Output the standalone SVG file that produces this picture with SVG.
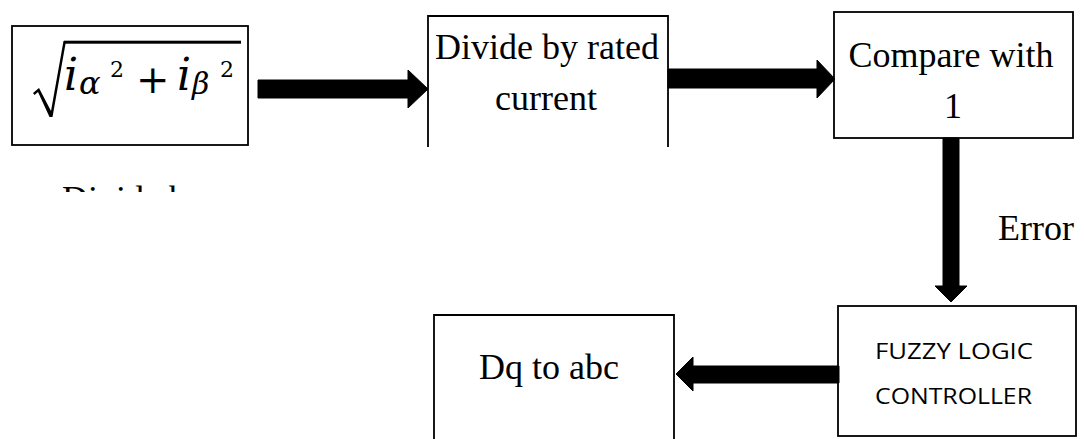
<svg xmlns="http://www.w3.org/2000/svg" width="1084" height="439" viewBox="0 0 1084 439">
  <style>
    .box { fill: none; stroke: #000; stroke-width: 1.8; }
    .lbl { font-family: "Liberation Serif", "Times New Roman", serif; font-size: 36px; fill: #000; }
    .mid { text-anchor: middle; }
    .sans { font-family: "Open Sans", "Liberation Sans", sans-serif; font-size: 22px; fill: #000; }
    .mi { font-family: "DejaVu Serif", serif; font-style: italic; fill: #000; }
    .mn { font-family: "DejaVu Serif", serif; fill: #000; }
    .arrow { fill: #000; stroke: #000; stroke-width: 1; stroke-linejoin: round; }
  </style>
  <defs>
    <clipPath id="cut-label">
      <rect x="0" y="150" width="300" height="42"/>
    </clipPath>
  </defs>

  <rect width="1084" height="439" fill="#fff"/>

  <!-- magnitude block: sqrt(i_alpha^2 + i_beta^2) -->
  <g id="node-magnitude">
    <rect class="box" x="12" y="26" width="236" height="119"/>
    <!-- radical sign and vinculum -->
    <path d="M33,93 L39,88 L51,111 L63.5,41 L66,41 L52.5,117 L49.5,117 L38,92 L34.5,95 Z" fill="#000"/>
    <rect x="64" y="40.7" width="177" height="3" fill="#000"/>
    <text class="mi" x="64" y="90" font-size="44">i</text>
    <text class="mi" x="79" y="94" font-size="32">α</text>
    <text class="mn" x="110" y="77" font-size="22">2</text>
    <text class="mn" x="136" y="93" font-size="40">+</text>
    <text class="mi" x="177" y="90" font-size="44">i</text>
    <text class="mi" x="192" y="94" font-size="30">β</text>
    <text class="mn" x="220" y="77" font-size="22">2</text>
  </g>

  <!-- caption under the magnitude block, cut off at the top -->
  <g id="caption-divide" clip-path="url(#cut-label)">
    <text class="lbl" x="62" y="210.5">Divide by</text>
  </g>

  <g id="node-divide">
    <path class="box" d="M428,147 L428,16 L668,16 L668,147"/>
    <text class="lbl mid" x="547" y="59">Divide by rated</text>
    <text class="lbl mid" x="546" y="110">current</text>
  </g>

  <g id="node-compare">
    <rect class="box" x="834" y="12" width="239" height="126"/>
    <text class="lbl mid" x="951" y="67">Compare with</text>
    <text class="lbl mid" x="953" y="118">1</text>
  </g>

  <g id="label-error">
    <text class="lbl" x="998" y="240">Error</text>
  </g>

  <g id="node-fuzzy">
    <rect class="box" x="838" y="306" width="238" height="130"/>
    <text class="sans" x="875" y="359" textLength="158" lengthAdjust="spacingAndGlyphs">FUZZY LOGIC</text>
    <text class="sans" x="875" y="404" textLength="157" lengthAdjust="spacingAndGlyphs">CONTROLLER</text>
  </g>

  <g id="node-dq-abc">
    <path class="box" d="M434,439 L434,315 L674,315 L674,439"/>
    <text class="lbl mid" x="549" y="379">Dq to abc</text>
  </g>

  <!-- block arrows between stages -->
  <g id="connectors">
    <polygon class="arrow" points="258,80 408,80 408,70 428,89 408,108 408,98 258,98"/>
    <polygon class="arrow" points="668,69 817,69 817,60 835,79 817,98 817,88 668,88"/>
    <polygon class="arrow" points="943,138 959,138 959,286 967,286 951,302 935,286 943,286"/>
    <polygon class="arrow" points="839,366 693,366 693,357 676,374 693,391 693,383 839,383"/>
  </g>
</svg>
